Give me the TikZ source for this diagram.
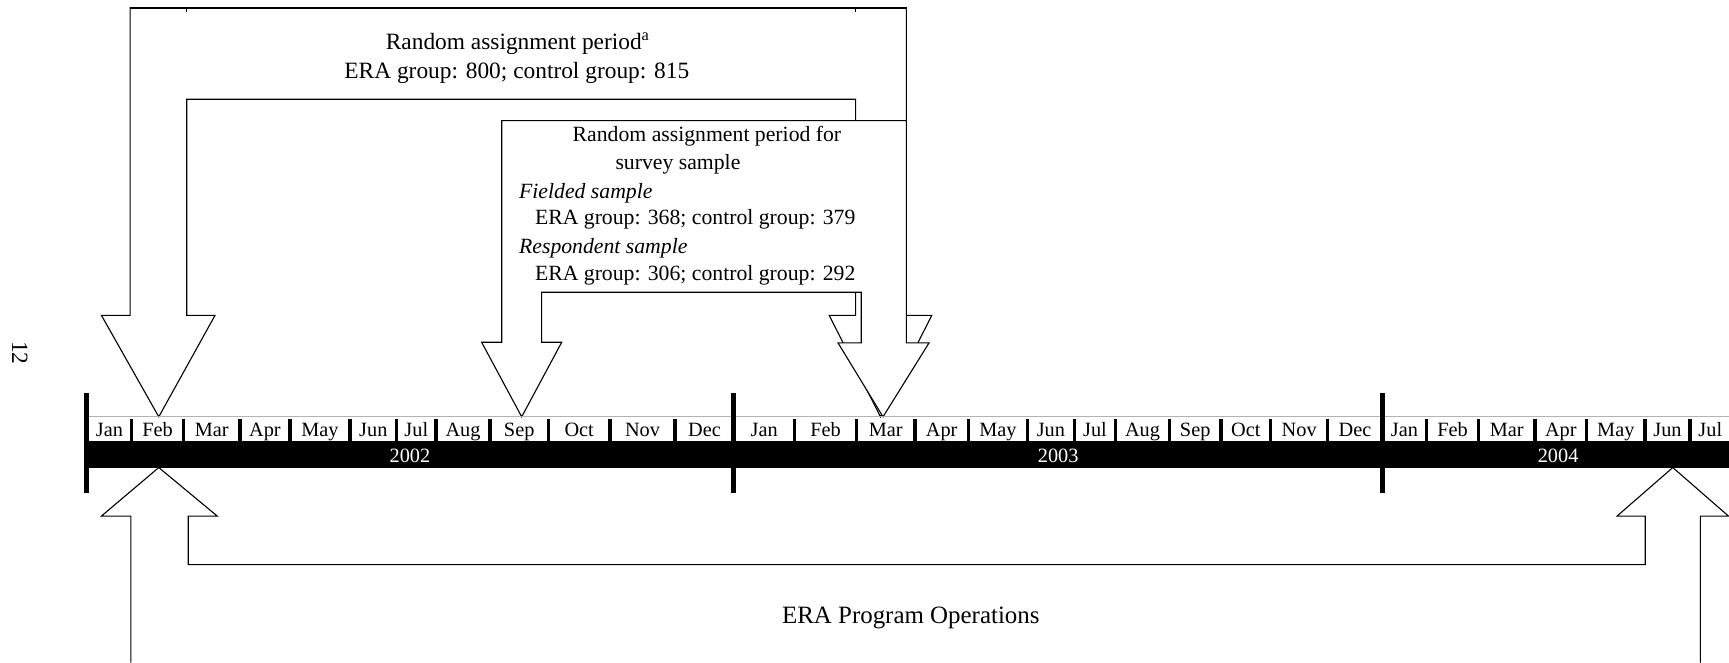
\documentclass[tikz,border=0pt]{standalone}
\usepackage{fontspec}
\setmainfont{Liberation Serif}
\begin{document}
\begin{tikzpicture}[x=1pt,y=-1pt,line join=miter,
  blk/.style={draw=black,line width=1pt,fill=white},
  outl/.style={draw=black,line width=1pt},
  mon/.style={font=\fontsize{18.4}{20}\selectfont,inner sep=0pt,anchor=base},
  yr/.style={font=\fontsize{18.4}{20}\selectfont,text=white,inner sep=0pt,anchor=base},
  lbl/.style={font=\fontsize{21.2}{26}\selectfont,inner sep=0pt,anchor=base},
  slbl/.style={font=\fontsize{19.7}{24}\selectfont,inner sep=0pt,anchor=base west},
  yearbar/.style={line width=4.5pt,draw=black}]
\useasboundingbox (0,0) rectangle (1568,601);

% big bent arrow (random assignment period)
\draw[blk] (118,286) -- (118,7) -- (822,7) -- (822,286) -- (845,286) -- (798.5,378)
  -- (752,286) -- (776,286) -- (776,90) -- (169.4,90) -- (169.4,286) -- (195,286)
  -- (144,378) -- (92,286) -- cycle;
\draw[line width=1.8pt] (118,7) -- (822,7);
\draw[line width=0.8pt] (169.4,7) -- (169.4,11);
\draw[line width=0.8pt] (776,7) -- (776,11);

% survey sample arrow
\draw[blk] (455,310.4) -- (455,109.4) -- (822,109.4) -- (822,311) -- (842.5,311)
  -- (800.8,378) -- (760,311) -- (781,311) -- (781,265) -- (491.2,265)
  -- (491.2,310.4) -- (509.4,310.4) -- (473.1,378) -- (436.8,310.4) -- cycle;

% program operations arrow
\draw[outl] (118.7,601) -- (118.7,468) -- (92,468) -- (144,424) -- (197,468)
  -- (170.7,468) -- (170.7,512) -- (1492,512) -- (1492,468) -- (1466.5,468)
  -- (1517,424) -- (1567.5,468) -- (1542,468) -- (1542,601);

% texts
\node[lbl] (t1) at (469.5,44.7) {Random assignment period\textsuperscript{a}};
\node[lbl] (t2) at (468.7,71) {ERA group: 800; control group: 815};
\node[slbl] (s1) at (519.2,128.5) {Random assignment period for};
\node[slbl] (s2) at (558,153.6) {survey sample};
\node[slbl] (s3) at (470.6,179.9) {\itshape Fielded sample};
\node[slbl] (s4) at (485,204) {ERA group: 368; control group: 379};
\node[slbl] (s5) at (470.6,229.7) {\itshape Respondent sample};
\node[slbl] (s6) at (485,254) {ERA group: 306; control group: 292};
\node[lbl,font=\fontsize{22.6}{26}\selectfont] (ops) at (826,565.5) {ERA Program Operations};
\node[font=\fontsize{21.2}{26}\selectfont,inner sep=0pt,rotate=-90] (pg) at (18,320) {12};

% timeline
\fill[black] (79,380) rectangle (1568,424);
\draw[gray!60,line width=1.2pt] (79,377.5) -- (1568,377.5);
\foreach \a/\b/\m [count=\i] in {
  79/119.4/Jan, 119.4/166.3/Feb, 166.3/217.6/Mar, 217.6/263/Apr, 263/317.4/May,
  317.4/359.7/Jun, 359.7/395.4/Jul, 395.4/444.4/Aug, 444.4/497.3/Sep,
  497.3/553.2/Oct, 553.2/612.1/Nov, 612.1/665.6/Dec,
  665.6/720.4/Jan, 720.4/776.9/Feb, 776.9/829.8/Mar, 829.8/878.2/Apr,
  878.2/931.7/May, 931.7/974.3/Jun, 974.3/1011.8/Jul, 1011.8/1060.5/Aug,
  1060.5/1107.3/Sep, 1107.3/1152.4/Oct, 1152.4/1204/Nov, 1204/1253.6/Dec,
  1253.6/1293.8/Jan, 1293.8/1340.6/Feb, 1340.6/1392.1/Mar, 1392.1/1438.9/Apr,
  1438.9/1491.8/May, 1491.8/1532.6/Jun, 1532.6/1569.5/Jul} {
  \fill[white] (\a+1.5,380.3) rectangle (\b-1.5,400);
  \node[mon] (mon\i) at ({(\a+\b)/2},396) {\m};
}
\node[yr] (y2002) at (371.8,419.3) {2002};
\node[yr] (y2003) at (959.6,419.3) {2003};
\node[yr] (y2004) at (1413,419.3) {2004};
\draw[yearbar] (78.6,356) -- (78.6,447);
\draw[yearbar] (665.6,356) -- (665.6,447);
\draw[yearbar] (1253.6,356) -- (1253.6,447);
\end{tikzpicture}
\end{document}
